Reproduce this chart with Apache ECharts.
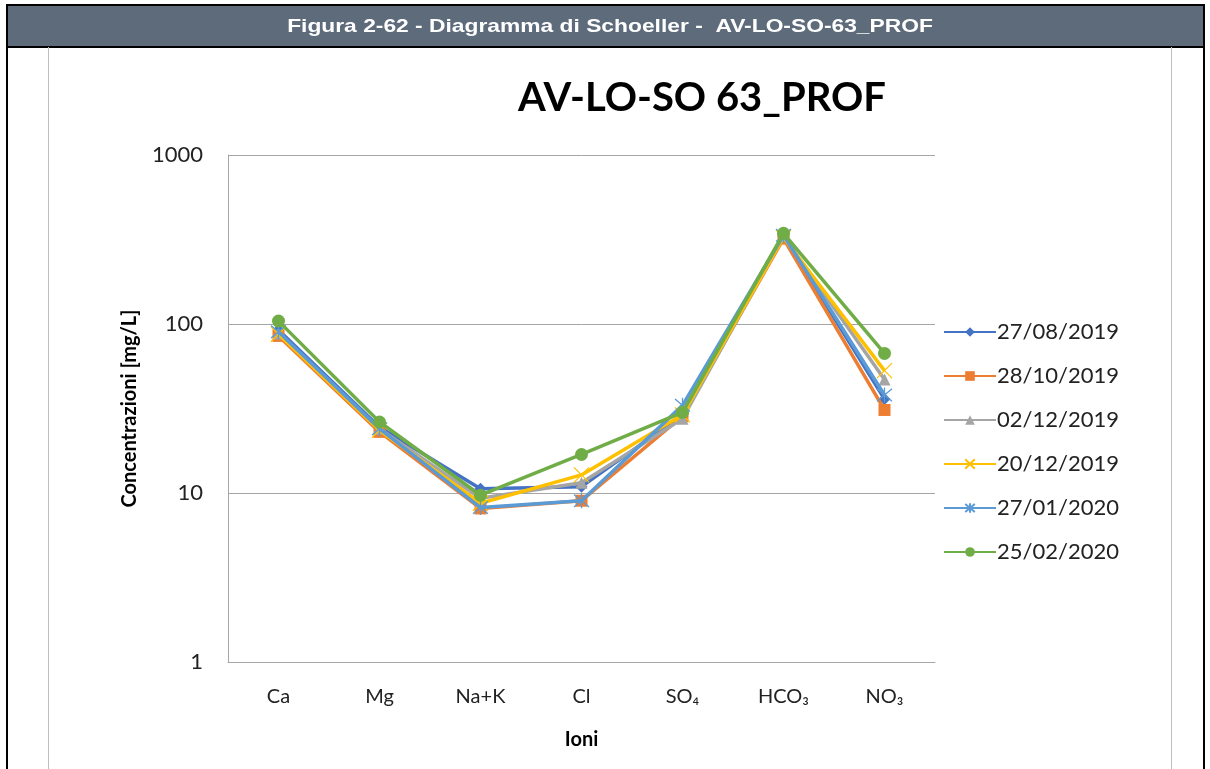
<!DOCTYPE html>
<html>
<head>
<meta charset="utf-8">
<script src="https://cdn.jsdelivr.net/npm/echarts@6/dist/echarts.min.js"></script>
<style>
html,body{margin:0;padding:0;background:#fff;}
#c{width:1210px;height:769px;}
</style>
</head>
<body>
<div id="c"></div>
<script>
const categories = ['Ca', 'Mg', 'Na+K', 'Cl', 'SO\u2084', 'HCO\u2083', 'NO\u2083'];
const seriesNames = ['27/08/2019', '28/10/2019', '02/12/2019', '20/12/2019', '27/01/2020', '25/02/2020'];
const s_27_08_2019 = [92, 24.5, 10.6, 10.9, 29, 330, 36];
const s_28_10_2019 = [85, 23, 8.1, 9.0, 28.5, 320, 31];
const s_02_12_2019 = [88, 24, 9.3, 11.5, 27.5, 330, 47];
const s_20_12_2019 = [87, 23.5, 8.7, 12.8, 29, 325, 53];
const s_27_01_2020 = [90, 24, 8.2, 9.0, 33, 335, 38];
const s_25_02_2020 = [104, 26.3, 9.7, 16.9, 30, 344, 67];
const yTicks = [1, 10, 100, 1000];

const seriesData = [s_27_08_2019, s_28_10_2019, s_02_12_2019, s_20_12_2019, s_27_01_2020, s_25_02_2020];
const colors = ['#4472C4', '#ED7D31', '#A5A5A5', '#FFC000', '#5B9BD5', '#70AD47'];
const symbols = ['diamond', 'rect', 'triangle', 'path://M0,0L10,10M10,0L0,10', 'path://M0,0L10,10M10,0L0,10M5,-1L5,11', 'circle'];
const symSizes = [12, 12, 12, 15, 15, 13];
const stroked = [false, false, false, true, true, false];

const chart = echarts.init(document.getElementById('c'));
const font = 'Lato, "Open Sans", "DejaVu Sans", sans-serif';

const series = seriesNames.map((n, i) => ({
  name: n,
  type: 'line',
  data: seriesData[i],
  symbol: symbols[i],
  symbolSize: symSizes[i],
  lineStyle: { color: colors[i], width: 3.5 },
  itemStyle: stroked[i]
    ? { color: 'rgba(0,0,0,0)', borderColor: colors[i], borderWidth: 1.3 }
    : { color: colors[i], borderColor: colors[i], borderWidth: 0 },
  emphasis: { disabled: true },
  z: 2 + i
}));

chart.setOption({
  animation: false,
  backgroundColor: '#fff',
  graphic: [
    { type: 'rect', shape: { x: 7, y: 5, width: 1197, height: 42 }, style: { fill: '#5d6b7b', stroke: '#000', lineWidth: 2 } },
    { type: 'text', x: 610, y: 27, scaleX: 1.2, originX: 0, style: { text: 'Figura 2-62 - Diagramma di Schoeller -  AV-LO-SO-63_PROF', fill: '#fff', font: 'bold 19px "Liberation Sans Narrow", "Liberation Sans", Arial, sans-serif', textAlign: 'center', textVerticalAlign: 'middle' } },
    { type: 'line', shape: { x1: 7, y1: 47, x2: 7, y2: 769 }, style: { stroke: '#000', lineWidth: 2 } },
    { type: 'line', shape: { x1: 1204, y1: 47, x2: 1204, y2: 769 }, style: { stroke: '#000', lineWidth: 2 } },
    { type: 'line', shape: { x1: 48.5, y1: 47, x2: 48.5, y2: 769 }, style: { stroke: '#bfbfbf', lineWidth: 1 } },
    { type: 'line', shape: { x1: 1171.5, y1: 47, x2: 1171.5, y2: 769 }, style: { stroke: '#bfbfbf', lineWidth: 1 } }
  ],
  title: {
    text: 'AV-LO-SO 63_PROF',
    left: 697, top: 73, textAlign: 'center',
    textStyle: { fontFamily: font, fontWeight: 'bold', fontSize: 40, color: '#000' }
  },
  legend: {
    orient: 'vertical',
    left: 938, top: 316,
    itemWidth: 52, itemHeight: 12,
    itemGap: 22,
    data: seriesNames,
    textStyle: { fontFamily: font, fontSize: 22, color: '#222', lineHeight: 22, padding: [0, 0, 0, -4] },
    selectedMode: false
  },
  grid: { left: 228, right: 275, top: 155, bottom: 107 },
  xAxis: {
    type: 'category',
    data: categories,
    boundaryGap: true,
    axisLine: { lineStyle: { color: '#a6a6a6', width: 1 } },
    axisTick: { show: false },
    axisLabel: { fontFamily: font, fontSize: 20, color: '#222', margin: 25 },
    name: 'Ioni',
    nameLocation: 'middle',
    nameGap: 68,
    nameTextStyle: { fontFamily: font, fontWeight: 'bold', fontSize: 20, color: '#000' }
  },
  yAxis: {
    type: 'log',
    logBase: 10,
    min: 1, max: 1000,
    axisLine: { show: true, lineStyle: { color: '#a6a6a6', width: 1 } },
    axisTick: { show: false },
    splitLine: { lineStyle: { color: '#a6a6a6', width: 1 } },
    axisLabel: { fontFamily: font, fontSize: 22, color: '#222', margin: 25, formatter: v => String(Math.round(v)) },
    name: 'Concentrazioni [mg/L]',
    nameLocation: 'middle',
    nameGap: 88,
    nameTextStyle: { fontFamily: font, fontWeight: 'bold', fontSize: 20, color: '#000' }
  },
  series: series
});
</script>
</body>
</html>
